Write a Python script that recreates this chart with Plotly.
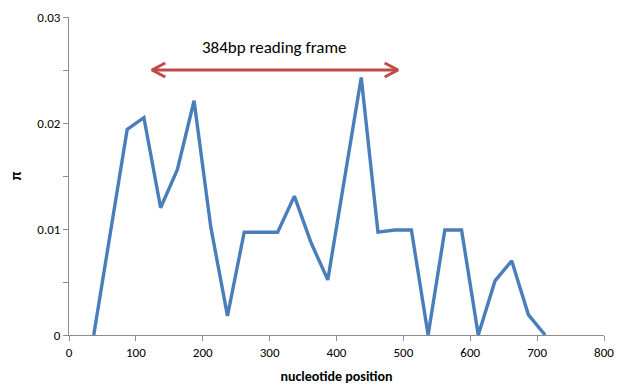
import plotly.graph_objects as go

positions = [37, 62, 87, 112, 137, 162, 187, 212, 237, 262, 287, 312, 337, 362,
             387, 412, 437, 462, 487, 512, 537, 562, 587, 612, 637, 662, 687, 712]
pi_values = [0.0, 0.0095, 0.0194, 0.0205, 0.0120, 0.0156, 0.0221, 0.0102, 0.0018,
             0.0097, 0.0097, 0.0097, 0.0131, 0.0087, 0.0052, 0.0148, 0.0243, 0.0097,
             0.0099, 0.0099, 0.0, 0.0099, 0.0099, 0.0, 0.0051, 0.0070, 0.0019, 0.0]

y_tickvals = [0, 0.01, 0.02, 0.03]
y_ticktext = ["0", "0.01", "0.02", "0.03"]
x_tickvals = [0, 100, 200, 300, 400, 500, 600, 700, 800]

frame_start, frame_end, frame_y = 124, 492, 0.0250
frame_label = "384bp reading frame"
label_x, label_y = 306, 0.0271
head_dx, head_dy = 20, 0.00066

font_family = "Carlito, Calibri, Lato, 'Open Sans', sans-serif"
arrow_color = "#BE4B48"

fig = go.Figure()
fig.add_trace(go.Scatter(x=positions, y=pi_values, mode="lines",
                         line=dict(color="#4A7EBB", width=3.4), showlegend=False))

# double-headed arrow: shaft and open chevron heads
fig.add_trace(go.Scatter(x=[frame_start, frame_end], y=[frame_y, frame_y], mode="lines",
                         line=dict(color=arrow_color, width=3), showlegend=False,
                         hoverinfo="skip"))
fig.add_trace(go.Scatter(x=[frame_end - head_dx, frame_end, frame_end - head_dx],
                         y=[frame_y + head_dy, frame_y, frame_y - head_dy], mode="lines",
                         line=dict(color=arrow_color, width=3), showlegend=False,
                         hoverinfo="skip"))
fig.add_trace(go.Scatter(x=[frame_start + head_dx, frame_start, frame_start + head_dx],
                         y=[frame_y + head_dy, frame_y, frame_y - head_dy], mode="lines",
                         line=dict(color=arrow_color, width=3), showlegend=False,
                         hoverinfo="skip"))
fig.add_annotation(x=label_x, y=label_y, xref="x", yref="y",
                   text=frame_label, showarrow=False,
                   font=dict(family=font_family, size=17, color="#000000"))

fig.update_xaxes(range=[0, 800], tickvals=x_tickvals, showgrid=False, zeroline=False,
                 showline=True, linecolor="#8C8C8C", linewidth=1,
                 ticks="outside", ticklen=5, tickcolor="#8C8C8C", automargin=False,
                 tickfont=dict(family=font_family, size=13, color="#000000"),
                 title=dict(text="<b>nucleotide position</b>", standoff=14,
                            font=dict(family=font_family, size=14, color="#000000")))
fig.update_yaxes(range=[0, 0.03], tickvals=y_tickvals, ticktext=y_ticktext,
                 showgrid=False, zeroline=False,
                 showline=True, linecolor="#8C8C8C", linewidth=1,
                 ticks="outside", ticklen=5, tickcolor="#8C8C8C", automargin=False,
                 minor=dict(dtick=0.005, tick0=0, ticks="outside", ticklen=5,
                            tickcolor="#8C8C8C"),
                 tickfont=dict(family=font_family, size=13, color="#000000"),
                 title=dict(text="<b>π</b>", standoff=12,
                            font=dict(family=font_family, size=15, color="#000000")))

fig.update_layout(width=618, height=385, plot_bgcolor="white", paper_bgcolor="white",
                  margin=dict(l=69, r=14, t=17, b=50))

fig.write_html("out.html", config={"displayModeBar": False},
               post_script="document.body.style.margin='0';")
